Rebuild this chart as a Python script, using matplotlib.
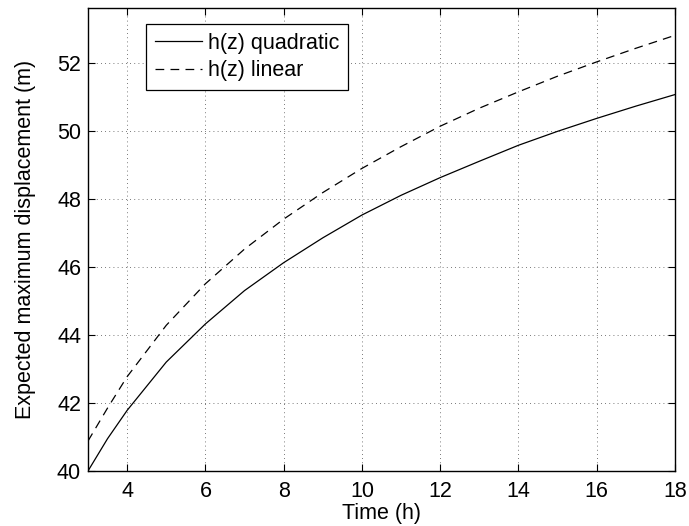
import matplotlib
matplotlib.use("Agg")
import matplotlib.pyplot as plt

# values
time_h = [3, 3.5, 4, 5, 6, 7, 8, 9, 10, 11, 12, 13, 14, 15, 16, 17, 18]
disp_quadratic = [40.0, 40.95, 41.78, 43.2, 44.32, 45.3, 46.12, 46.85, 47.52,
                  48.1, 48.62, 49.1, 49.57, 49.98, 50.36, 50.72, 51.06]
disp_linear = [40.88, 41.85, 42.77, 44.28, 45.5, 46.52, 47.4, 48.18, 48.89,
               49.53, 50.13, 50.66, 51.14, 51.6, 52.02, 52.42, 52.8]

x_ticks = [4, 6, 8, 10, 12, 14, 16, 18]
y_ticks = [40, 42, 44, 46, 48, 50, 52]

plt.rcParams["font.family"] = ["Liberation Sans", "DejaVu Sans"]
fs = 15.5

fig = plt.figure(figsize=(6.89, 5.26), dpi=100)
ax = fig.add_axes([0.1277, 0.1046, 0.852, 0.880])

ax.plot(time_h, disp_quadratic, color="black", linewidth=0.9, label="h(z) quadratic")
ax.plot(time_h, disp_linear, color="black", linewidth=0.9, linestyle=(0, (7, 5)),
        label="h(z) linear")

ax.set_xlim(3, 18)
ax.set_ylim(40, 53.6)
ax.set_xticks(x_ticks)
ax.set_yticks(y_ticks)
ax.tick_params(direction="in", top=True, right=True, length=5, width=0.8,
               labelsize=fs)
ax.tick_params(axis="x", pad=7)
ax.tick_params(axis="y", pad=5)
for s in ax.spines.values():
    s.set_linewidth(1.0)
ax.grid(True, linestyle=(0, (1, 4)), color="black", linewidth=0.6, alpha=0.7)

ax.set_xlabel("Time (h)", fontsize=fs, labelpad=1)
ax.set_ylabel("Expected maximum displacement (m)", fontsize=fs, labelpad=15)

leg = ax.legend(loc="upper left", bbox_to_anchor=(0.099, 0.965), borderaxespad=0,
                fancybox=False, edgecolor="black", framealpha=1, fontsize=fs,
                handlelength=2.2, handletextpad=0.28, borderpad=0.4,
                labelspacing=0.3)
leg.get_frame().set_linewidth(0.9)

fig.savefig("out.png", dpi=100)
